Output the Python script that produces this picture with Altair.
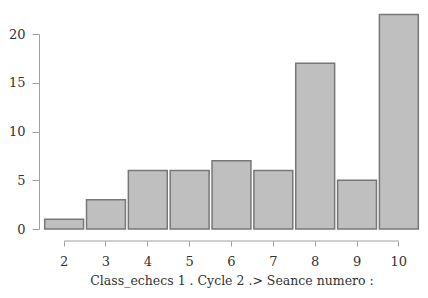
import altair as alt
import pandas as pd

seances = ["2", "3", "4", "5", "6", "7", "8", "9", "10"]
counts = [1, 3, 6, 6, 7, 6, 17, 5, 22]
y_ticks = [0, 5, 10, 15, 20]
x_title = "Class_echecs 1 . Cycle 2 .> Seance numero :"

df = pd.DataFrame({"seance": seances, "n": counts})
ends = pd.DataFrame({"a": [seances[0]], "b": [seances[-1]]})

FONT = "DejaVu Serif"
W, H = 377, 195

xscale = alt.Scale(domain=seances, paddingInner=0.07, paddingOuter=0.04)

bars = alt.Chart(df).mark_bar(
    fill="#bfbfbf", stroke="#777777", strokeWidth=1.5, clip=False
).encode(
    x=alt.X("seance:N", scale=xscale, sort=seances,
            axis=alt.Axis(title=x_title, labelAngle=0, domain=False,
                          offset=12, tickSize=5, tickColor="#a0a0a0",
                          labelPadding=9, titlePadding=6,
                          labelFont=FONT, labelFontSize=13, labelColor="#333333",
                          titleFont=FONT, titleFontSize=12.5, titleColor="#333333",
                          titleFontWeight="normal")),
    y=alt.Y("n:Q", scale=alt.Scale(domain=[0, 20], nice=False),
            axis=alt.Axis(title=None, values=y_ticks, domain=True,
                          domainColor="#a0a0a0", offset=4, tickSize=7,
                          tickColor="#a0a0a0", labelPadding=7, grid=False,
                          labelFont=FONT, labelFontSize=13, labelColor="#333333")),
)

xline = alt.Chart(ends).mark_rule(color="#a0a0a0", strokeWidth=1).encode(
    x=alt.X("a:N", scale=xscale),
    x2="b:N",
    y=alt.value(H + 12),
)

chart = alt.layer(bars, xline).properties(
    width=W, height=H,
    autosize=alt.AutoSizeParams(type="none"),
    padding={"left": 35, "top": 26, "right": 0, "bottom": 61},
).configure_view(stroke=None)

chart.save("out.html", embed_options={"renderer": "svg", "actions": False})
